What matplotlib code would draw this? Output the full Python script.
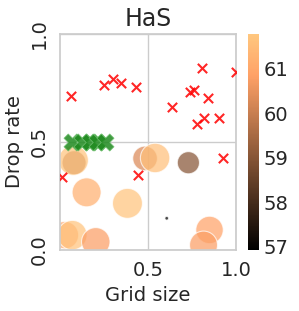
import numpy as np
import matplotlib.pyplot as plt
import seaborn as sns

sns.set_theme(style="whitegrid")
plt.rcParams['font.family'] = ['DejaVu Sans']

# scored runs: grid size, drop rate, score
grid_size = [0.028, 0.070, 0.080, 0.076, 0.151, 0.203, 0.383, 0.483, 0.540,
             0.729, 0.606, 0.849, 0.815]
drop_rate = [0.069, 0.069, 0.404, 0.415, 0.267, 0.038, 0.216, 0.424, 0.426,
             0.404, 0.147, 0.093, 0.023]
score = [61.0, 61.7, 59.7, 61.7, 61.2, 60.8, 61.7, 60.3, 61.6,
         59.0, 56.93, 60.9, 60.8]
sizes = [390, 450, 300, 465, 435, 420, 465, 315, 450, 255, 7, 390, 405]

# failed runs
fail_x = [0.061, 0.250, 0.299, 0.347, 0.432, 0.809, 0.998, 0.739, 0.758,
          0.841, 0.634, 0.820, 0.900, 0.780, 0.928, 0.441, 0.013]
fail_y = [0.713, 0.762, 0.793, 0.772, 0.753, 0.843, 0.823, 0.731, 0.741,
          0.702, 0.664, 0.613, 0.613, 0.583, 0.426, 0.346, 0.338]

# default settings
default_x = [0.066, 0.123, 0.170, 0.210, 0.256]
default_y = [0.5, 0.5, 0.5, 0.5, 0.5]

fig = plt.figure(figsize=(2.99, 3.11), dpi=100)
ax = fig.add_axes([0.2007, 0.196, 0.589, 0.695])
cax = fig.add_axes([0.829, 0.196, 0.037, 0.695])

sc = ax.scatter(grid_size, drop_rate, c=score, s=sizes, cmap="copper",
                vmin=56.93, vmax=61.78, alpha=0.72, edgecolors="white",
                linewidths=0.8, zorder=2)
ax.scatter(fail_x, fail_y, marker="x", color="red", s=45, linewidths=1.5,
           alpha=0.85, zorder=3)
ax.scatter(default_x, default_y, marker="X", color="#1f8a1f", s=150,
           alpha=0.85, edgecolors="#6fbf6f", linewidths=0.6, zorder=4)

ax.set_xlim(0, 1)
ax.set_ylim(0, 1)
ax.set_xticks([0.5, 1.0])
ax.set_yticks([0.0, 0.5, 1.0])
ax.set_xticklabels(["0.5", "1.0"], fontsize=14)
ax.set_yticklabels(["0.0", "0.5", "1.0"], fontsize=14, rotation=90, va="center")
ax.set_xlabel("Grid size", fontsize=14)
ax.set_ylabel("Drop rate", fontsize=14)
ax.set_title("HaS", fontsize=17)
ax.tick_params(pad=2)

cb = fig.colorbar(sc, cax=cax)
cb.outline.set_visible(False)
cb.solids.set_alpha(1)
cb.set_ticks([57, 58, 59, 60, 61])
cb.ax.tick_params(labelsize=14, length=0)

fig.savefig("out.png", dpi=100)
